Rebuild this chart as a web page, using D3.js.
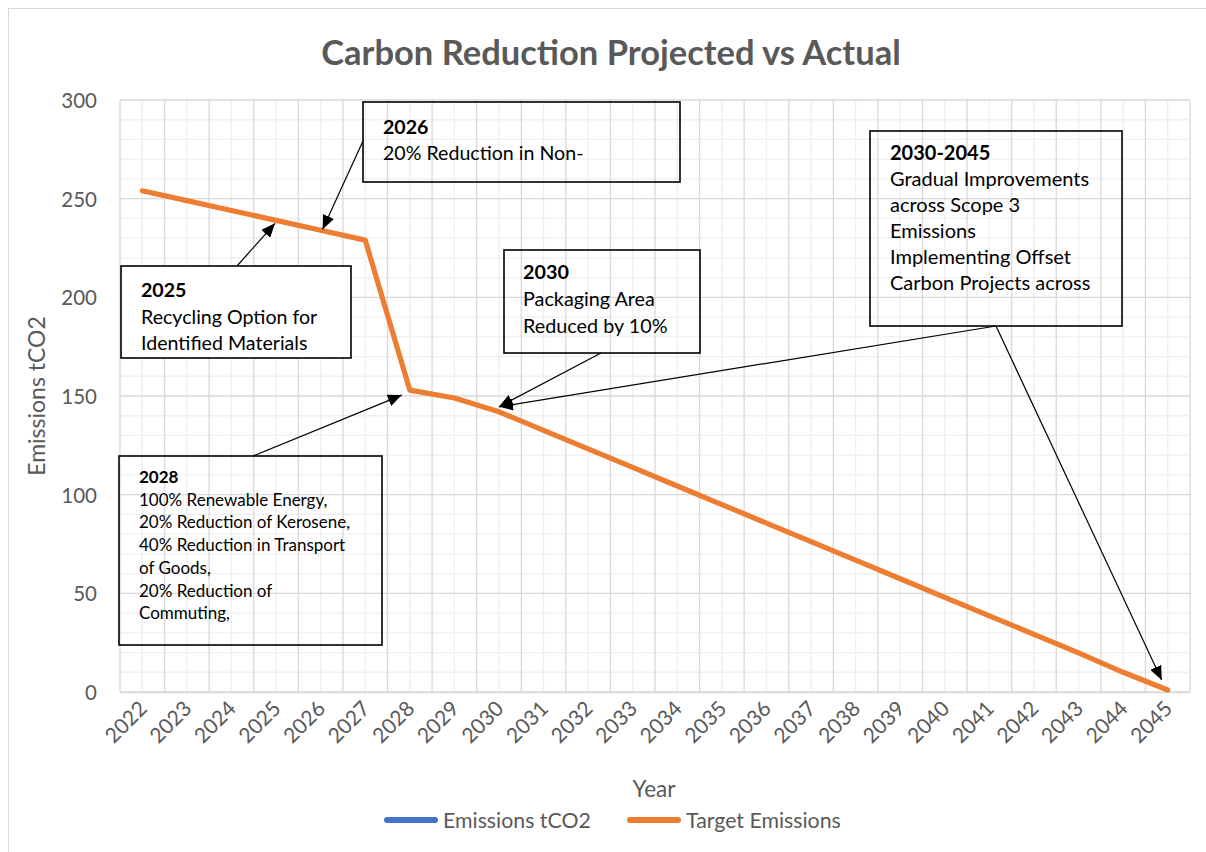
<!DOCTYPE html>
<html>
<head>
<meta charset="utf-8">
<script src="https://cdn.jsdelivr.net/npm/d3@7"></script>
<style>
  html, body { margin: 0; padding: 0; background: #fff; }
  svg { display: block; font-family: Lato, "Open Sans", sans-serif; }
</style>
</head>
<body>
<svg id="chart" width="1206" height="852"></svg>
<script>
// ---------------- data ----------------
const years = ["2022","2023","2024","2025","2026","2027","2028","2029","2030","2031","2032","2033",
               "2034","2035","2036","2037","2038","2039","2040","2041","2042","2043","2044","2045"];
const targetEmissions = [254, 249, 244, 239, 234, 229, 153, 149, 142, 132.6, 123.2, 113.8,
                         104.4, 95, 85.6, 76.2, 66.8, 57.4, 48, 38.6, 29.2, 19.8, 10, 1];
const actualEmissions = [];   // "Emissions tCO2" series: no visible values
const yTicks = [0, 50, 100, 150, 200, 250, 300];
const seriesNames = ["Emissions tCO2", "Target Emissions"];
const seriesColors = ["#4472C4", "#ED7D31"];
const titleText = "Carbon Reduction Projected vs Actual";
const xTitle = "Year";
const yTitle = "Emissions tCO2";

const noteTitles = ["2025", "2026", "2028", "2030", "2030-2045"];
const noteLines = [
  ["Recycling Option for", "Identified Materials"],
  ["20% Reduction in Non-"],
  ["100% Renewable Energy,", "20% Reduction of Kerosene,", "40% Reduction in Transport", "of Goods,", "20% Reduction of", "Commuting,"],
  ["Packaging Area", "Reduced by 10%"],
  ["Gradual Improvements", "across Scope 3", "Emissions", "Implementing Offset", "Carbon Projects across"]
];
// which year each note's arrow(s) point at
const noteTargets = [["2025"], ["2026"], ["2028"], ["2030"], ["2030", "2045"]];

// ---------------- layout ----------------
const W = 1206, H = 852;
const plot = { left: 120, right: 1190, top: 100, bottom: 692 };
const textGray = "#595959";

const noteLayout = [
  { x: 121, y: 266, w: 230, h: 92, fs: 19.6, lh: 26.5, tx: 20, ty: 31, fill: "#fff",
    from: [[237, 266]], off: [[-1, 3]] },
  { x: 363, y: 102, w: 317, h: 80, fs: 19.6, lh: 26, tx: 20, ty: 32, fill: "none",
    from: [[363, 141]], off: [[2, -1]] },
  { x: 119, y: 456, w: 263, h: 189, fs: 17, lh: 22.7, tx: 20, ty: 27, fill: "none",
    from: [[253, 456]], off: [[-8, 5]] },
  { x: 504, y: 250, w: 196, h: 103, fs: 19.8, lh: 27, tx: 19, ty: 29, fill: "none",
    from: [[601, 353]], off: [[0, -5]] },
  { x: 870, y: 131, w: 252, h: 195, fs: 20, lh: 26, tx: 20, ty: 29, fill: "none",
    from: [[996, 326], [996, 326]], off: [[0, -5], [-6, -10]] }
];

const svg = d3.select("#chart");

// outer chart border
svg.append("rect").attr("x", 8.5).attr("y", 8.5).attr("width", W + 20).attr("height", H + 20)
  .attr("fill", "#fff").attr("stroke", "#d9d9d9").attr("stroke-width", 1);

// scales
const x = d3.scaleBand().domain(years).range([plot.left, plot.right]).padding(0);
const xc = d => x(d) + x.bandwidth() / 2;
const y = d3.scaleLinear().domain([0, 300]).range([plot.bottom, plot.top]);

// grid
const grid = svg.append("g");
const minorY = d3.range(0, 301, 10).filter(v => v % 50 !== 0);
grid.selectAll(".hmin").data(minorY).join("line")
  .attr("x1", plot.left).attr("x2", plot.right)
  .attr("y1", d => y(d)).attr("y2", d => y(d))
  .attr("stroke", "#efefef").attr("stroke-width", 1.3);
grid.selectAll(".vmin").data(years).join("line")
  .attr("x1", d => xc(d)).attr("x2", d => xc(d))
  .attr("y1", plot.top).attr("y2", plot.bottom)
  .attr("stroke", "#efefef").attr("stroke-width", 1.3);
grid.selectAll(".hmaj").data(yTicks).join("line")
  .attr("x1", plot.left).attr("x2", plot.right)
  .attr("y1", d => y(d)).attr("y2", d => y(d))
  .attr("stroke", "#d9d9d9").attr("stroke-width", 1.3);
grid.selectAll(".vmaj").data(years.concat(["end"])).join("line")
  .attr("x1", (d, i) => i < years.length ? x(d) : plot.right)
  .attr("x2", (d, i) => i < years.length ? x(d) : plot.right)
  .attr("y1", plot.top).attr("y2", plot.bottom)
  .attr("stroke", "#d9d9d9").attr("stroke-width", 1.3);

// axes
const yAxis = svg.append("g").attr("transform", `translate(${plot.left},0)`)
  .call(d3.axisLeft(y).tickValues(yTicks).tickSize(0).tickPadding(23));
yAxis.select(".domain").remove();
yAxis.selectAll("text").attr("fill", textGray).attr("font-size", 20.5)
  .attr("font-family", "Lato").attr("dy", "0.36em");

const xAxis = svg.append("g").attr("transform", `translate(0,${plot.bottom})`)
  .call(d3.axisBottom(x).tickSize(0));
xAxis.select(".domain").attr("stroke", "#d9d9d9").attr("stroke-width", 1.3);
xAxis.selectAll("text").attr("fill", textGray).attr("font-size", 21).attr("font-family", "Lato")
  .attr("text-anchor", "end").attr("dy", null).attr("y", null)
  .attr("transform", "translate(6,18) rotate(-45)");

// series lines
const line = d3.line().x((d, i) => xc(years[i])).y(d => y(d));
svg.append("path").datum(actualEmissions).attr("d", line)
  .attr("fill", "none").attr("stroke", seriesColors[0]).attr("stroke-width", 5);
svg.append("path").datum(targetEmissions).attr("d", line)
  .attr("fill", "none").attr("stroke", seriesColors[1]).attr("stroke-width", 5.2)
  .attr("stroke-linecap", "round").attr("stroke-linejoin", "round");

// title
svg.append("text").attr("x", 611).attr("y", 65).attr("text-anchor", "middle")
  .attr("font-size", 34.5).attr("font-weight", "bold").attr("fill", textGray).text(titleText);

// axis titles
svg.append("text").attr("x", 654).attr("y", 797).attr("text-anchor", "middle")
  .attr("font-size", 22.5).attr("fill", textGray).text(xTitle);
svg.append("text").attr("transform", `translate(45,${(plot.top + plot.bottom) / 2}) rotate(-90)`)
  .attr("text-anchor", "middle").attr("font-size", 23).attr("fill", textGray).text(yTitle);

// legend
const legendX = [384, 627];
seriesNames.forEach((name, i) => {
  const g = svg.append("g").attr("transform", `translate(${legendX[i]},820)`);
  g.append("line").attr("x1", 3).attr("x2", 51).attr("y1", 0).attr("y2", 0)
    .attr("stroke", seriesColors[i]).attr("stroke-width", 6).attr("stroke-linecap", "round");
  g.append("text").attr("x", 59).attr("y", 7.5).attr("font-size", 21.3).attr("fill", textGray).text(name);
});

// arrow marker
svg.append("defs").append("marker").attr("id", "arrow")
  .attr("viewBox", "0 0 14 12").attr("refX", 14).attr("refY", 6)
  .attr("markerWidth", 14).attr("markerHeight", 12).attr("markerUnits", "userSpaceOnUse")
  .attr("orient", "auto")
  .append("path").attr("d", "M0,0 L14,6 L0,12 Z").attr("fill", "#000");

// annotations
const valueOf = yr => targetEmissions[years.indexOf(yr)];
noteTitles.forEach((t, i) => {
  const L = noteLayout[i];
  const g = svg.append("g");
  noteTargets[i].forEach((yr, k) => {
    const tx = xc(yr) + L.off[k][0], ty = y(valueOf(yr)) + L.off[k][1];
    g.append("line").attr("x1", L.from[k][0]).attr("y1", L.from[k][1])
      .attr("x2", tx).attr("y2", ty)
      .attr("stroke", "#000").attr("stroke-width", 1.2).attr("marker-end", "url(#arrow)");
  });
  g.append("rect").attr("x", L.x).attr("y", L.y).attr("width", L.w).attr("height", L.h)
    .attr("fill", L.fill).attr("stroke", "#000").attr("stroke-width", 1.6);
  const txt = g.append("text").attr("font-size", L.fs).attr("fill", "#000");
  txt.append("tspan").attr("x", L.x + L.tx).attr("y", L.y + L.ty).attr("font-weight", "bold").text(t);
  noteLines[i].forEach((s, j) => {
    txt.append("tspan").attr("x", L.x + L.tx).attr("y", L.y + L.ty + L.lh * (j + 1)).text(s);
  });
});
</script>
</body>
</html>
